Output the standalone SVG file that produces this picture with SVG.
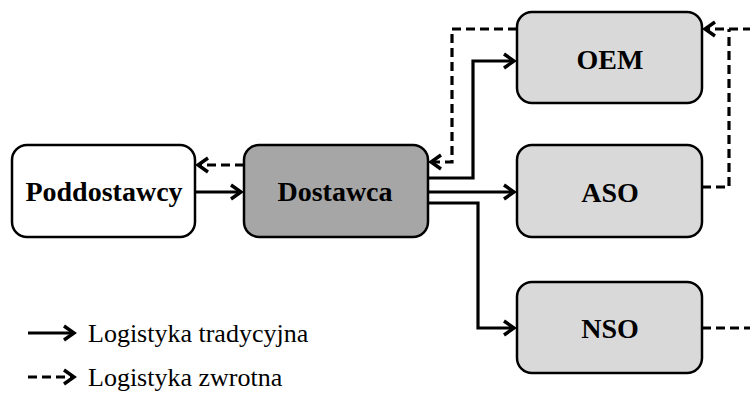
<svg xmlns="http://www.w3.org/2000/svg" width="750" height="399" viewBox="0 0 750 399">
<defs>
<style>
.box{stroke:#000;stroke-width:2.5}
.lbl{font-family:"Liberation Serif","Times New Roman",serif;font-weight:bold;font-size:28px;text-anchor:middle;fill:#000}
.leg{font-family:"Liberation Serif","Times New Roman",serif;font-size:26px;fill:#000}
.c{fill:none;stroke:#000;stroke-width:3.2}
.d{stroke-dasharray:9,5}
</style>
<marker id="ah" markerUnits="userSpaceOnUse" markerWidth="18" markerHeight="20" refX="13" refY="10" orient="auto" overflow="visible">
<path d="M3,3 L13,10 L3,17" fill="none" stroke="#000" stroke-width="3.4"/>
</marker>
</defs>
<rect width="750" height="399" fill="#fff"/>
<g id="connectors">
<line class="c" x1="195" y1="192" x2="241" y2="192" marker-end="url(#ah)"/>
<line class="c d" x1="244" y1="165" x2="198" y2="165" marker-end="url(#ah)"/>
<polyline class="c" points="428,178 473,178 473,61 514,61" marker-end="url(#ah)"/>
<line class="c" x1="428" y1="192" x2="514" y2="192" marker-end="url(#ah)"/>
<polyline class="c" points="428,203 478,203 478,328 514,328" marker-end="url(#ah)"/>
<polyline class="c d" points="517,29 452,29 452,162 431,162" marker-end="url(#ah)"/>
<polyline class="c d" points="702,187 729,187 729,29"/>
<line class="c d" x1="752" y1="29" x2="705" y2="29" marker-end="url(#ah)"/>
<line class="c d" x1="702" y1="328" x2="752" y2="328"/>
<line class="c" x1="28" y1="333" x2="74" y2="333" marker-end="url(#ah)"/>
<line class="c d" x1="28" y1="377" x2="74" y2="377" stroke-dasharray="8,4" marker-end="url(#ah)"/>
</g>
<g id="poddostawcy">
<rect class="box" x="12" y="145" width="183" height="92" rx="15" fill="#fff"/>
<text class="lbl" x="104" y="201">Poddostawcy</text>
</g>
<g id="dostawca">
<rect class="box" x="244" y="145" width="184" height="92" rx="15" fill="#a6a6a6"/>
<text class="lbl" x="335" y="201">Dostawca</text>
</g>
<g id="oem">
<rect class="box" x="517" y="12" width="185" height="91" rx="15" fill="#d9d9d9"/>
<text class="lbl" x="610" y="69">OEM</text>
</g>
<g id="aso">
<rect class="box" x="517" y="145" width="185" height="92" rx="15" fill="#d9d9d9"/>
<text class="lbl" x="610" y="202">ASO</text>
</g>
<g id="nso">
<rect class="box" x="517" y="282" width="185" height="91" rx="15" fill="#d9d9d9"/>
<text class="lbl" x="610" y="338">NSO</text>
</g>
<g id="legend">
<text class="leg" x="88" y="342">Logistyka tradycyjna</text>
<text class="leg" x="88" y="386">Logistyka zwrotna</text>
</g>
</svg>
